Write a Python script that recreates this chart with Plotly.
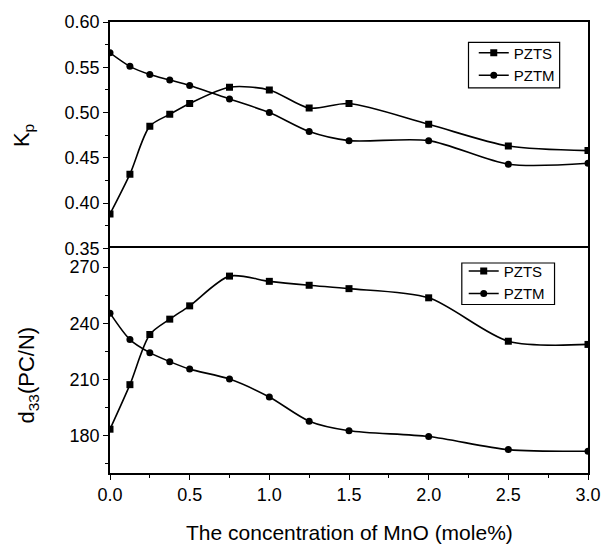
import plotly.graph_objects as go

x_conc = [0, 0.125, 0.25, 0.375, 0.5, 0.75, 1.0, 1.25, 1.5, 2.0, 2.5, 3.0]

kp_pzts = [0.388, 0.432, 0.485, 0.498, 0.510, 0.528, 0.525, 0.505, 0.510, 0.487, 0.463, 0.458]
kp_pztm = [0.566, 0.551, 0.542, 0.536, 0.530, 0.515, 0.500, 0.479, 0.469, 0.469, 0.443, 0.444]

d33_pzts = [183.4, 207.2, 234.0, 242.2, 249.3, 265.2, 262.4, 260.3, 258.5, 253.6, 230.4, 228.7]
d33_pztm = [245.4, 231.3, 224.3, 219.5, 215.5, 210.2, 200.6, 187.7, 182.6, 179.5, 172.5, 171.6]

series_names = ["PZTS", "PZTM"]
x_ticks = [0, 0.5, 1.0, 1.5, 2.0, 2.5, 3.0]
x_ticklabels = ["0.0", "0.5", "1.0", "1.5", "2.0", "2.5", "3.0"]
kp_ticks = [0.35, 0.40, 0.45, 0.50, 0.55, 0.60]
kp_ticklabels = ["0.35", "0.40", "0.45", "0.50", "0.55", "0.60"]
d33_ticks = [180, 210, 240, 270]

FONT = "Liberation Sans, Arial, sans-serif"
BLACK = "black"

fig = go.Figure()

line_style = dict(color=BLACK, width=1.6, shape="spline", smoothing=0.8)

fig.add_trace(go.Scatter(x=x_conc, y=kp_pzts, name=series_names[0], mode="lines+markers",
                         line=line_style, marker=dict(symbol="square", size=7, color=BLACK),
                         xaxis="x2", yaxis="y2", legend="legend"))
fig.add_trace(go.Scatter(x=x_conc, y=kp_pztm, name=series_names[1], mode="lines+markers",
                         line=line_style, marker=dict(symbol="circle", size=7, color=BLACK),
                         xaxis="x2", yaxis="y2", legend="legend"))
fig.add_trace(go.Scatter(x=x_conc, y=d33_pzts, name=series_names[0], mode="lines+markers",
                         line=line_style, marker=dict(symbol="square", size=7, color=BLACK),
                         xaxis="x", yaxis="y", legend="legend2"))
fig.add_trace(go.Scatter(x=x_conc, y=d33_pztm, name=series_names[1], mode="lines+markers",
                         line=line_style, marker=dict(symbol="circle", size=7, color=BLACK),
                         xaxis="x", yaxis="y", legend="legend2"))

split = 0.498
axis_common = dict(showline=True, linecolor=BLACK, linewidth=1.6,
                   showgrid=False, zeroline=False,
                   tickfont=dict(family=FONT, size=18, color=BLACK))

legend_common = dict(xanchor="left", yanchor="top", bgcolor="rgba(0,0,0,0)",
                     borderwidth=0, font=dict(family=FONT, size=15, color=BLACK),
                     tracegroupgap=0, itemwidth=30)

fig.update_layout(
    width=613, height=545,
    margin=dict(l=110, r=14, t=17, b=72),
    plot_bgcolor="white", paper_bgcolor="white",
    font=dict(family=FONT, color=BLACK),
    xaxis=dict(domain=[0, 1], range=[0, 3], anchor="y", mirror=True,
               tickmode="array", tickvals=x_ticks, ticktext=x_ticklabels,
               ticks="outside", ticklen=5, tickwidth=1.4, tickcolor=BLACK,
               minor=dict(dtick=0.25, ticks="outside", ticklen=3, tickwidth=1.2, tickcolor=BLACK),
               **axis_common),
    yaxis=dict(domain=[0, split], range=[160, 280], anchor="x", mirror=True,
               tickmode="array", tickvals=d33_ticks,
               ticks="outside", ticklen=5, tickwidth=1.4, tickcolor=BLACK,
               minor=dict(dtick=15, tick0=165, ticks="outside", ticklen=3, tickwidth=1.2, tickcolor=BLACK),
               **axis_common),
    xaxis2=dict(domain=[0, 1], range=[0, 3], anchor="y2", side="top", mirror=False,
                showticklabels=False, ticks="", matches="x", **axis_common),
    yaxis2=dict(domain=[split, 1], range=[0.35, 0.60], anchor="x2", mirror=True,
                tickmode="array", tickvals=kp_ticks, ticktext=kp_ticklabels,
                ticks="outside", ticklen=5, tickwidth=1.4, tickcolor=BLACK,
                minor=dict(dtick=0.025, tick0=0.35, ticks="outside", ticklen=3, tickwidth=1.2, tickcolor=BLACK),
                **axis_common),
    legend=dict(x=0.761, y=0.968, **legend_common),
    legend2=dict(x=0.740, y=0.484, **legend_common),
    showlegend=True,
)

# legend frames
fig.add_shape(type="rect", xref="paper", yref="paper", x0=0.750, x1=0.9407, y0=0.854, y1=0.955,
              line=dict(color=BLACK, width=1.2), fillcolor="white", layer="above")
fig.add_shape(type="rect", xref="paper", yref="paper", x0=0.736, x1=0.930, y0=0.3736, y1=0.4656,
              line=dict(color=BLACK, width=1.2), fillcolor="white", layer="above")

fig.add_annotation(text="K<sub>p</sub>", xref="paper", yref="paper", x=-0.182, y=0.747,
                   xanchor="center", yanchor="middle", textangle=-90, showarrow=False,
                   font=dict(family=FONT, size=22, color=BLACK))
fig.add_annotation(text="d<sub>33</sub>(PC/N)", xref="paper", yref="paper", x=-0.172, y=0.218,
                   xanchor="center", yanchor="middle", textangle=-90, showarrow=False,
                   font=dict(family=FONT, size=22, color=BLACK))
fig.add_annotation(text="The concentration of MnO (mole%)", xref="paper", yref="paper",
                   x=0.5, y=-0.133, xanchor="center", yanchor="middle", showarrow=False,
                   font=dict(family=FONT, size=21, color=BLACK))

fig.write_html("out.html", config={"displayModeBar": False},
               post_script="document.body.style.margin='0';")
